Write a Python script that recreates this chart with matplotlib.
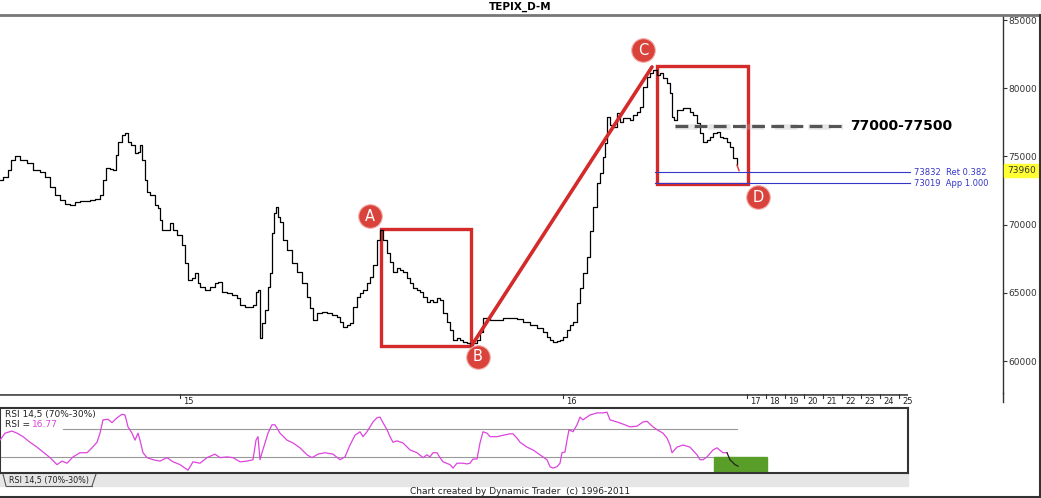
import numpy as np
import matplotlib
matplotlib.use("Agg")
import matplotlib.pyplot as plt
from matplotlib.patches import Rectangle
from matplotlib.lines import Line2D
import matplotlib.transforms as mtransforms

# price series (bar position, close)
bar_x = [0, 3, 8, 11, 15, 20, 27, 33, 40, 45, 50, 55, 60, 65, 70, 75, 80, 85, 90, 95,
         100, 103, 106, 110, 113, 116, 118, 122, 125, 128, 131, 135, 138, 140, 142, 145, 147, 150, 155, 158,
         160, 162, 166, 170, 173, 177, 182, 185, 188, 192, 195, 198, 200, 205, 210, 215, 218, 222, 227, 232,
         237, 240, 245, 250, 253, 256, 258, 260, 262, 265, 268, 270, 272, 274, 276, 278, 280, 283, 287, 292,
         297, 302, 307, 310, 313, 317, 322, 327, 332, 337, 340, 343, 347, 350, 353, 357, 360, 363, 367, 370,
         373, 377, 380, 383, 387, 390, 393, 397, 400, 403, 407, 410, 413, 417, 420, 423, 427, 430, 433, 437,
         440, 443, 447, 450, 453, 457, 460, 463, 467, 470, 473, 477, 480, 483, 487, 490, 497, 503, 510, 517,
         523, 530, 537, 543, 547, 550, 553, 557, 560, 563, 567, 570, 573, 577, 580, 583, 587, 590, 593, 597,
         600, 603, 605, 607, 610, 613, 617, 620, 623, 627, 630, 633, 637, 640, 643, 647, 650, 653, 657, 660,
         663, 667, 670, 672, 674, 677, 680, 683, 687, 690, 693, 697, 700, 703, 707, 710, 713, 717, 720, 723,
         727, 730, 733, 737, 739]
close = [73270, 73500, 74000, 74740, 75030, 74740, 74520, 74000, 73860, 73490, 72760, 72170, 71800, 71510, 71440, 71660, 71730, 71730, 71800, 71880,
         72170, 73270, 74150, 74080, 74000, 75100, 76060, 76570, 76720, 76060, 75840, 75250, 75320, 75840, 74740, 73270, 72390, 72170, 71440, 71220,
         70340, 69600, 69600, 70120, 69600, 69240, 68500, 67180, 65940, 66090, 66450, 65720, 65430, 65210, 65430, 65720, 65790, 65060, 64990, 64840,
         64620, 64110, 63960, 63960, 64110, 65060, 65210, 61690, 62790, 63740, 65430, 66450, 69390, 70850, 71290, 70560, 70190, 68870, 68140, 67190,
         66530, 65720, 64690, 63890, 63010, 63520, 63590, 63520, 63370, 63230, 62860, 62490, 62640, 62790, 63960, 64690, 64990, 65210, 65720, 66160,
         67040, 68870, 69600, 68870, 67920, 67260, 66530, 66820, 66670, 66530, 66090, 65720, 65350, 65210, 65060, 64690, 64330, 64470, 64330, 64620,
         64470, 63520, 62860, 62270, 61540, 61690, 61540, 61390, 61320, 61170, 61320, 61540, 62130, 63150, 63150, 63010, 63010, 63150, 63150, 63080,
         62860, 62640, 62420, 62130, 61760, 61540, 61390, 61470, 61540, 61760, 62270, 62640, 62860, 64250, 65350, 66450, 67630, 69500, 71290, 73050,
         73780, 74960, 75980, 77890, 77300, 77160, 78180, 77520, 77820, 77820, 77670, 78040, 78260, 78620, 80090, 80820, 81120, 81340, 80970, 81120,
         80750, 80380, 79650, 77890, 77670, 78400, 78400, 78550, 78550, 78260, 78040, 77450, 76720, 76060, 76200, 76420, 76720, 76790, 76420, 76350,
         76060, 75690, 74880, 74370, 73960]

# RSI 14,5
rsi_x = [0, 5, 12, 17, 23, 30, 37, 43, 50, 57, 62, 67, 73, 80, 87, 92, 97, 100, 103, 108,
         112, 117, 122, 125, 128, 132, 135, 138, 140, 143, 147, 153, 160, 167, 173, 180, 188, 193, 200, 207,
         215, 220, 227, 233, 240, 247, 253, 256, 258, 260, 262, 265, 268, 272, 275, 280, 287, 293, 300, 307,
         312, 318, 325, 333, 340, 345, 350, 355, 360, 363, 367, 373, 377, 380, 383, 387, 390, 393, 397, 403,
         410, 417, 423, 427, 430, 433, 437, 440, 443, 450, 453, 457, 463, 467, 470, 473, 477, 480, 483, 487,
         490, 497, 503, 510, 513, 517, 520, 527, 533, 540, 547, 550, 553, 557, 560, 562, 565, 567, 569, 573,
         577, 580, 583, 587, 590, 597, 603, 607, 610, 617, 623, 630, 637, 643, 647, 650, 653, 657, 663, 667,
         670, 672, 677, 683, 690, 697, 700, 703, 707, 713, 717, 723, 727, 730, 735, 738]
rsi = [54, 64, 67, 64, 59, 51, 44, 37, 29, 19, 24, 21, 30, 36, 36, 43, 51, 64, 83, 84,
       79, 86, 91, 90, 73, 64, 54, 64, 54, 36, 29, 26, 24, 29, 23, 19, 11, 23, 21, 29,
       34, 29, 30, 29, 23, 24, 26, 54, 59, 26, 36, 50, 64, 76, 76, 64, 54, 50, 43, 33,
       29, 34, 36, 34, 26, 30, 47, 61, 66, 59, 66, 80, 86, 87, 79, 69, 59, 51, 53, 50,
       40, 36, 29, 33, 30, 36, 36, 29, 23, 19, 14, 21, 21, 20, 21, 27, 27, 50, 66, 64,
       59, 59, 61, 63, 63, 57, 51, 44, 40, 33, 26, 16, 14, 16, 21, 36, 37, 54, 69, 66,
       76, 87, 83, 87, 90, 93, 93, 94, 83, 80, 77, 73, 74, 80, 81, 77, 73, 69, 64, 57,
       47, 36, 44, 47, 44, 33, 26, 26, 30, 40, 43, 36, 36, 26, 19, 16.77]

y_ticks = [60000, 65000, 70000, 75000, 80000, 85000]
date_pos = [180, 563, 747, 766, 785, 804, 823, 842, 861, 880, 899]
date_lbl = ["15", "16", "17", "18", "19", "20", "21", "22", "23", "24", "25"]

W, H = 1041, 498
fig = plt.figure(figsize=(W / 100, H / 100), dpi=100)
fig.patch.set_facecolor("white")


def px_axes(x0, y0, x1, y1):
    return fig.add_axes([x0 / W, 1 - y1 / H, (x1 - x0) / W, (y1 - y0) / H])


def fig_line(x0, y0, x1, y1, **kw):
    fig.add_artist(Line2D([x0 / W, x1 / W], [1 - y0 / H, 1 - y1 / H], transform=fig.transFigure, **kw))


# ---- main price panel
ax = px_axes(0, 15, 1003, 393)
ax.set_xlim(0, 1003)
ax.set_ylim(57655, 85367)
for s in ["top", "left", "bottom"]:
    ax.spines[s].set_visible(False)
ax.spines["right"].set_color("#333333")
ax.spines["right"].set_linewidth(1)
ax.yaxis.tick_right()
ax.set_yticks(y_ticks)
ax.set_yticklabels([str(v) for v in y_ticks])
ax.tick_params(axis="y", length=3, width=0.8, colors="#333333", labelsize=6.5, pad=1)
ax.set_xticks([])

ax.step(bar_x[:-1], close[:-1], where="post", color="black", lw=0.9)
ax.plot(bar_x[-2:], close[-2:], color="#e03030", lw=1)

red = "#d42a2a"
# pattern A-B-C-D
ax.add_patch(Rectangle((381, 61100), 90, 69680 - 61100, fill=False, ec=red, lw=2.4))
ax.add_patch(Rectangle((657, 72980), 91, 81630 - 72980, fill=False, ec=red, lw=2.4))
ax.plot([472, 652], [61170, 81560], color=red, lw=2.6, solid_capstyle="round")

circles = {"A": (370, 70630), "B": (478, 60300), "C": (643, 82800), "D": (758, 72020)}
for k, (cx, cy) in circles.items():
    ax.scatter([cx], [cy], s=290, color="#d9433c", edgecolors="#f2b0ac", linewidths=0.8, zorder=5)
    ax.text(cx, cy, k, color="white", fontsize=10.5, ha="center", va="center", zorder=6)

# resistance zone
ax.plot([675, 843], [77150, 77150], color="#bbbbbb", lw=4, alpha=0.35, dashes=(4, 2))
ax.plot([675, 843], [77230, 77230], color="#555555", lw=2.3, dashes=(4, 2))
ax.text(850, 77230, "77000-77500", fontsize=10, fontweight="bold", va="center", ha="left")

blue = "#3535c8"
ax.plot([655, 910], [73832, 73832], color=blue, lw=0.8)
ax.plot([655, 910], [73019, 73019], color=blue, lw=0.8)
ax.text(914, 73832, "73832  Ret 0.382", color=blue, fontsize=6, va="center", ha="left", clip_on=False)
ax.text(914, 73019, "73019  App 1.000", color=blue, fontsize=6, va="center", ha="left", clip_on=False)

trans = mtransforms.blended_transform_factory(ax.transAxes, ax.transData)
ax.add_patch(Rectangle((1.0005, 73960 - 450), 0.04, 900, transform=trans, color="#ffff33", clip_on=False, zorder=4))
ax.text(1.004, 73960, "73960", transform=trans, fontsize=6.5, va="center", ha="left", color="#333333", zorder=5)

# ---- date strip
ax_d = px_axes(0, 394, 908, 407)
ax_d.set_xlim(0, 908)
ax_d.set_ylim(0, 1)
ax_d.axis("off")
ax_d.axhline(1, color="#555555", lw=2)
for p, l in zip(date_pos, date_lbl):
    ax_d.plot([p, p], [1, 0.7], color="#333333", lw=0.8)
    ax_d.text(p + 3, 0.45, l, fontsize=6, va="center", ha="left", color="#222222")

# ---- RSI panel
ax_r = px_axes(0, 408, 908, 473)
ax_r.set_xlim(0, 908)
ax_r.set_ylim(7, 100)
ax_r.set_xticks([])
ax_r.set_yticks([])
for s in ax_r.spines.values():
    s.set_color("#333333")
    s.set_linewidth(1.5)
ax_r.plot([63, 737], [70, 70], color="#999999", lw=0.8)
ax_r.plot([0, 737], [30, 30], color="#999999", lw=0.8)
ax_r.add_patch(Rectangle((714, 7), 53, 23, color="#5a9e2a", zorder=2))
ax_r.plot(rsi_x[:-3], rsi[:-3], color="#dd44dd", lw=0.9, zorder=3)
ax_r.plot(rsi_x[-4:], rsi[-4:], color="#222222", lw=0.9, zorder=3)
ax_r.text(5, 97, "RSI 14,5 (70%-30%)", fontsize=6.5, va="top", ha="left", color="#222222")
ax_r.text(5, 83, "RSI =", fontsize=6.5, va="top", ha="left", color="#222222")
ax_r.text(32, 83, "16.77", fontsize=6.5, va="top", ha="left", color="#dd44dd")

# ---- frame, tab strip and footer
fig.add_artist(Rectangle((0, 1 - 486 / H), 908 / W, 12 / H, transform=fig.transFigure, color="#e6e6e6", zorder=0))
fig.text(9 / W, 1 - 480.5 / H, "RSI 14,5 (70%-30%)", fontsize=5.8, va="center", ha="left", color="#222222")
fig_line(3, 474, 6, 486, color="#555555", lw=0.8)
fig_line(6, 486, 92, 486, color="#555555", lw=0.8)
fig_line(92, 486, 96, 474, color="#555555", lw=0.8)
fig_line(0, 15, W, 15, color="#777777", lw=2)
fig_line(1003, 393, 1003, 402, color="#333333", lw=1)
fig_line(W - 1, 15, W - 1, H, color="#333333", lw=1.5)
fig_line(0, H - 1, W, H - 1, color="#333333", lw=1.5)
fig.text(520 / W, 1 - 7 / H, "TEPIX_D-M", fontsize=7.5, fontweight="bold", ha="center", va="center")
fig.text(520 / W, 1 - 491 / H, "Chart created by Dynamic Trader  (c) 1996-2011", fontsize=6.5, ha="center", va="center", color="#222222")

fig.savefig("out.png", dpi=100)
